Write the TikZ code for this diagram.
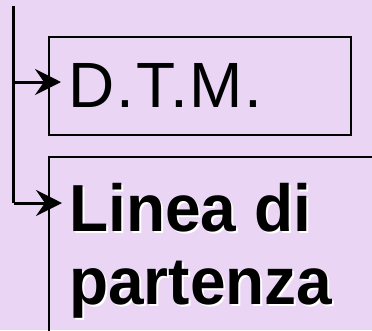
\documentclass[tikz,border=0pt]{standalone}
\usepackage{fontspec}
\setmainfont{Liberation Sans}
\usetikzlibrary{arrows.meta}
\definecolor{bg}{RGB}{234,213,245}
\tikzset{
  frame/.style={draw=black, line width=2pt, inner sep=0pt, anchor=north west},
  bigtext/.style={anchor=base west, inner sep=0pt, font=\fontsize{64}{76}\selectfont},
  boldtext/.style={bigtext, font=\fontsize{64}{76}\selectfont\bfseries, yscale=1.04, transform shape},
  link/.style={line width=3pt, -{Stealth[length=26pt,width=26pt,inset=9pt]}, shorten >=7pt},
  trunk/.style={line width=3pt}
}
\begin{document}
\begin{tikzpicture}[x=1pt,y=-1pt]
\useasboundingbox (0,0) rectangle (372,330);
\clip (0,0) rectangle (372,330);
\fill[bg] (0,0) rectangle (372,330);
% boxes
\node[frame, minimum width=302pt, minimum height=98pt] (box1) at (48,36) {};
\node[frame, minimum width=360pt, minimum height=220pt] (box2) at (48,156) {};
% texts
\node[bigtext, font=\fontsize{64}{76}\selectfont\addfontfeatures{LetterSpace=3}] (t1) at (68,107.5) {D.T.M.};
\node[boldtext, text=white] at (71,233) {Linea di};
\node[boldtext] (t2) at (69,231) {Linea di};
\node[boldtext, text=white] at (71,306) {partenza};
\node[boldtext] (t3) at (69,304) {partenza};
% connectors
\coordinate (top) at (13.5,6);
\coordinate (j1) at (13.5,82);
\coordinate (j2) at (13.5,203);
\draw[trunk] (top) -- (j2);
\draw[link] (j1) -- (j1 -| t1.west);
\draw[link] (j2) -- (j2 -| t2.west);
\end{tikzpicture}
\end{document}
